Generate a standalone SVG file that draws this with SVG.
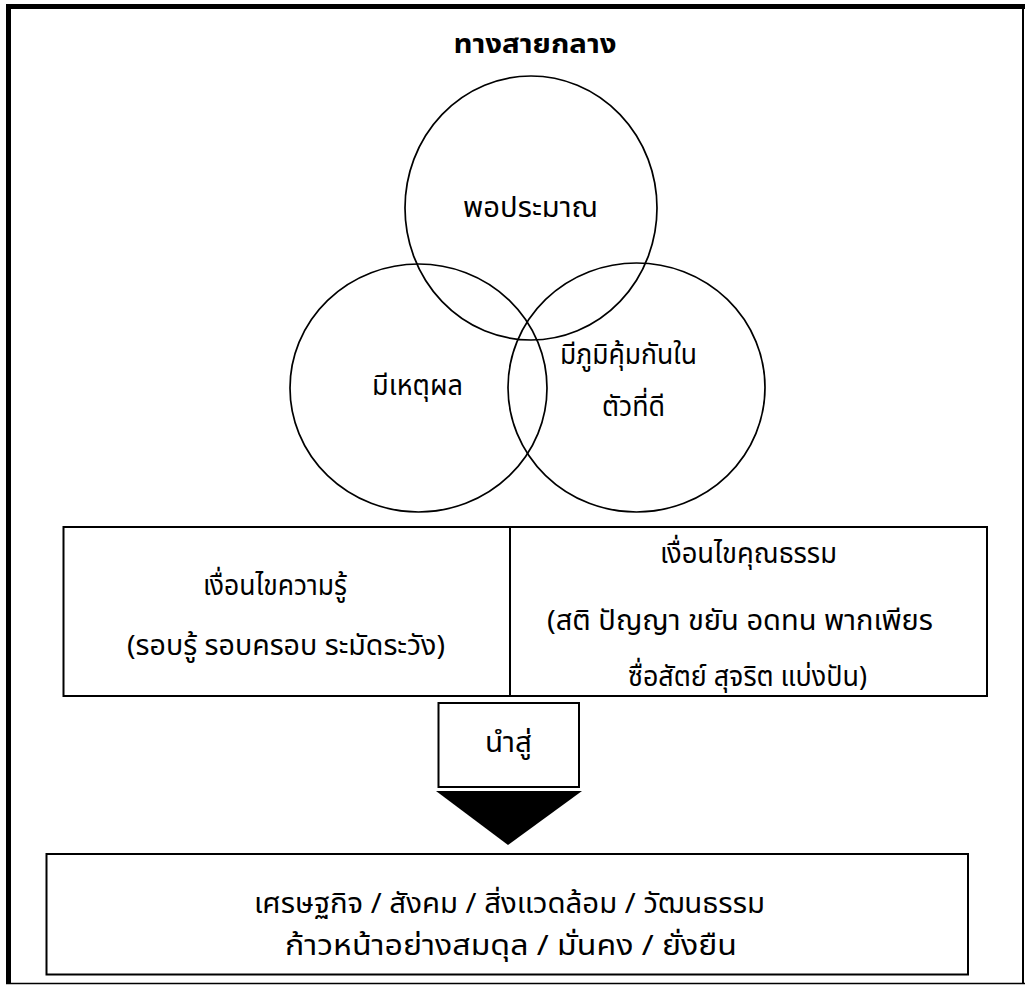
<svg xmlns="http://www.w3.org/2000/svg" width="1025" height="986" viewBox="0 0 1025 986">
<style>
.t{font-family:"Noto Sans Thai","Noto Sans","DejaVu Sans",sans-serif;font-size:28px;fill:#000;text-anchor:middle}
.b{font-weight:bold;font-size:27px}
.c{fill:none;stroke:#000;stroke-width:1.7}
.r{fill:#fff;stroke:#000;stroke-width:2}
</style>
<rect width="1025" height="986" fill="#fff"/>
<g id="frame">
<line x1="8.5" y1="6.5" x2="8.5" y2="984" stroke="#000" stroke-width="5"/>
<line x1="6" y1="6.5" x2="1025" y2="6.5" stroke="#000" stroke-width="5"/>
<line x1="6" y1="983.5" x2="1025" y2="983.5" stroke="#000" stroke-width="1.5"/>
<line x1="1023" y1="6" x2="1023" y2="984" stroke="#000" stroke-width="2"/>
</g>
<g id="title"><text class="t b" x="535" y="53" textLength="163" lengthAdjust="spacingAndGlyphs">ทางสายกลาง</text></g>
<g id="circle-top">
<ellipse class="c" cx="531" cy="208" rx="126" ry="132"/>
<text class="t" x="530.5" y="217" textLength="135" lengthAdjust="spacingAndGlyphs">พอประมาณ</text>
</g>
<g id="circle-left">
<ellipse class="c" cx="418.5" cy="388" rx="128.5" ry="124"/>
<text class="t" x="417.5" y="395" textLength="91" lengthAdjust="spacingAndGlyphs">มีเหตุผล</text>
</g>
<g id="circle-right">
<ellipse class="c" cx="636.5" cy="387.5" rx="128.5" ry="124.5"/>
<text class="t" x="628.5" y="364" textLength="137" lengthAdjust="spacingAndGlyphs">มีภูมิคุ้มกันใน</text>
<text class="t" x="633.5" y="416" textLength="63" lengthAdjust="spacingAndGlyphs">ตัวที่ดี</text>
</g>
<g id="box-knowledge">
<rect class="r" x="63.5" y="527" width="446.5" height="169"/>
<text class="t" x="275" y="595" textLength="144" lengthAdjust="spacingAndGlyphs">เงื่อนไขความรู้</text>
<text class="t" x="286" y="655" textLength="318" lengthAdjust="spacingAndGlyphs">(รอบรู้ รอบครอบ ระมัดระวัง)</text>
</g>
<g id="box-virtue">
<rect class="r" x="510" y="527" width="477" height="169"/>
<text class="t" x="748.5" y="563" textLength="177" lengthAdjust="spacingAndGlyphs">เงื่อนไขคุณธรรม</text>
<text class="t" x="740" y="630" textLength="386" lengthAdjust="spacingAndGlyphs">(สติ ปัญญา ขยัน อดทน พากเพียร</text>
<text class="t" x="747.5" y="686" textLength="239" lengthAdjust="spacingAndGlyphs">ซื่อสัตย์ สุจริต แบ่งปัน)</text>
</g>
<g id="box-leads">
<rect class="r" x="438.5" y="703" width="140.5" height="84" stroke-width="1.7"/>
<text class="t" x="508.5" y="752" textLength="47" lengthAdjust="spacingAndGlyphs">นำสู่</text>
</g>
<g id="connectors">
<polygon points="436,791 582,791 508,845" fill="#000"/>
</g>
<g id="box-result">
<rect class="r" x="46.5" y="854" width="921.5" height="120.5" stroke-width="1.7"/>
<text class="t" x="509.5" y="913" textLength="511" lengthAdjust="spacingAndGlyphs">เศรษฐกิจ / สังคม / สิ่งแวดล้อม / วัฒนธรรม</text>
<text class="t" x="511" y="955" textLength="452" lengthAdjust="spacingAndGlyphs">ก้าวหน้าอย่างสมดุล / มั่นคง / ยั่งยืน</text>
</g>
</svg>
